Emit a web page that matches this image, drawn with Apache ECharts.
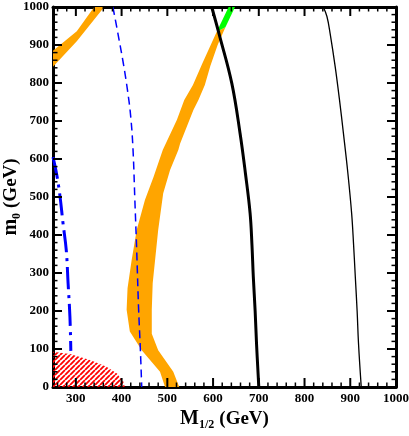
<!DOCTYPE html>
<html>
<head>
<meta charset="utf-8">
<script src="https://cdn.jsdelivr.net/npm/echarts@6/dist/echarts.min.js"></script>
<style>
  html, body { margin: 0; padding: 0; background: #fff; }
  #chart { width: 409px; height: 436px; }
</style>
</head>
<body>
<div id="chart"></div>
<script>
// tick labels and tick positions
const xTickLabels = [300, 400, 500, 600, 700, 800, 900, 1000];
const xMajorTicks = [300, 400, 500, 600, 700, 800, 900];
const yMajorTicks = [100, 200, 300, 400, 500, 600, 700, 800, 900];
const xMinorTicks = [];
for (let v = 260; v < 1000; v += 20) {
    if (v % 100 !== 0) xMinorTicks.push(v);
}
const yMinorTicks = [];
for (let v = 20; v < 1000; v += 20) {
    if (v % 100 !== 0) yMinorTicks.push(v);
}

// cosmological band (orange), turning green past the thick black curve
const bandOrange = [
    [495, 0], [484, 40], [444, 97], [418, 146], [411, 203], [413, 260], [422, 334],
    [433, 413], [451, 492], [470, 553], [490, 624], [521, 703], [537, 755], [556, 795],
    [576, 850], [608, 935], [627, 947], [610, 900], [594, 845], [582, 795], [568, 755],
    [557, 729], [528, 641], [524, 624], [506, 571], [491, 510], [480, 413], [468, 273],
    [466, 203], [466, 140], [480, 97], [513, 40], [526, 0]
];
const bandGreen = [[608, 935], [634, 1000], [648, 1000], [627, 947]];
const bandUpperLeft = [
    [250, 843], [302, 910], [362, 1000], [340, 1000], [302, 936], [250, 885]
];

// excluded region (red hatch)
const redRegion = [
    [250, 0], [250, 93], [287, 87], [331, 71], [367, 53], [389, 36], [404, 14], [407, 0]
];

// contours
const blueThick = [
    [250, 605], [258, 560], [265, 505], [272, 430], [279, 360], [283, 273], [287, 185], [289, 95]
];
const blueThin = [
    [381, 1000], [392, 930], [404, 850], [413, 780], [420, 711], [425, 624], [429, 492],
    [433, 360], [437, 211], [441, 100], [444, 0]
];
const blackThick = [
    [597, 1000], [615, 921], [641, 799], [659, 668], [671, 560], [681, 457], [685, 375],
    [688, 290], [692, 200], [695, 115], [700, 0]
];
const blackThin = [
    [841, 1000], [849, 975], [856, 930], [867, 843], [876, 760], [885, 668], [895, 560],
    [903, 457], [907, 380], [911, 290], [915, 200], [918, 115], [924, 0]
];

const font = 'Liberation Serif';

function hatchPattern() {
    const c = document.createElement('canvas');
    c.width = 5;
    c.height = 5;
    const g = c.getContext('2d');
    g.strokeStyle = '#ff0000';
    g.lineWidth = 1.8;
    g.beginPath();
    for (let k = -5; k <= 5; k += 5) {
        g.moveTo(k, 5);
        g.lineTo(k + 5, 0);
    }
    g.stroke();
    return c;
}

function polygonSeries(points, fill, z) {
    return {
        type: 'custom',
        clip: true,
        z: z,
        silent: true,
        data: [points[0]],
        renderItem: function (params, api) {
            return {
                type: 'polygon',
                shape: { points: points.map(p => api.coord(p)) },
                style: { fill: fill, stroke: null }
            };
        }
    };
}

function lineSeries(points, color, width, type) {
    return {
        type: 'line',
        data: points,
        showSymbol: false,
        smooth: 0.4,
        z: 5,
        silent: true,
        lineStyle: { color: color, width: width, type: type }
    };
}

// inward ticks on all four sides, placed through the axes' own scales
const frameTicks = {
    type: 'custom',
    clip: false,
    z: 20,
    silent: true,
    data: [[250, 0]],
    renderItem: function (params, api) {
        const children = [];
        function tick(p, dx, dy, w) {
            children.push({
                type: 'line',
                shape: { x1: p[0], y1: p[1], x2: p[0] + dx, y2: p[1] + dy },
                style: { stroke: '#000', lineWidth: w }
            });
        }
        xMajorTicks.forEach(v => {
            tick(api.coord([v, 0]), 0, -9, 2);
            tick(api.coord([v, 1000]), 0, 9, 2);
        });
        xMinorTicks.forEach(v => {
            tick(api.coord([v, 0]), 0, -4.5, 1.5);
            tick(api.coord([v, 1000]), 0, 4.5, 1.5);
        });
        yMajorTicks.forEach(v => {
            tick(api.coord([250, v]), 9, 0, 2);
            tick(api.coord([1000, v]), -9, 0, 2);
        });
        yMinorTicks.forEach(v => {
            tick(api.coord([250, v]), 4.5, 0, 1.5);
            tick(api.coord([1000, v]), -4.5, 0, 1.5);
        });
        return { type: 'group', children: children };
    }
};

const frameLine = { show: true, onZero: false, lineStyle: { color: '#000', width: 3 } };
const labelStyle = {
    fontFamily: font, fontWeight: 'bold', fontSize: 13, color: '#000',
    formatter: v => String(v)
};
const nameRich = {
    a: { fontFamily: font, fontWeight: 'bold', fontSize: 20, color: '#000', lineHeight: 24 },
    s: { fontFamily: font, fontWeight: 'bold', fontSize: 12, color: '#000', lineHeight: 24, padding: [12, 0, 0, 0] },
    g: { fontFamily: font, fontWeight: 'bold', fontSize: 19, color: '#000', lineHeight: 24 }
};

const chart = echarts.init(document.getElementById('chart'));
chart.setOption({
    animation: false,
    backgroundColor: '#fff',
    grid: { left: 53, right: 13, top: 7, bottom: 49, outerBoundsMode: 'none' },
    xAxis: [
        {
            type: 'value', position: 'bottom', min: 250, max: 1000, interval: 50,
            axisLine: frameLine,
            axisTick: { show: false },
            axisLabel: Object.assign({ customValues: xTickLabels, margin: 5 }, labelStyle),
            splitLine: { show: false },
            name: '{a|M}{s|1/2}{a| }{g|(GeV)}',
            nameLocation: 'middle',
            nameGap: 20,
            nameMoveOverlap: false,
            nameTextStyle: { rich: nameRich }
        },
        {
            type: 'value', position: 'top', min: 250, max: 1000, interval: 50,
            axisLine: frameLine,
            axisTick: { show: false },
            axisLabel: { show: false },
            splitLine: { show: false }
        }
    ],
    yAxis: [
        {
            type: 'value', position: 'left', min: 0, max: 1000, interval: 100,
            axisLine: frameLine,
            axisTick: { show: false },
            axisLabel: Object.assign({ margin: 4 }, labelStyle),
            splitLine: { show: false },
            name: '{a|m}{s|0}{a| }{g|(GeV)}',
            nameLocation: 'middle',
            nameGap: 30,
            nameMoveOverlap: false,
            nameTextStyle: { rich: nameRich }
        },
        {
            type: 'value', position: 'right', min: 0, max: 1000, interval: 100,
            axisLine: frameLine,
            axisTick: { show: false },
            axisLabel: { show: false },
            splitLine: { show: false }
        }
    ],
    series: [
        polygonSeries(redRegion, { image: hatchPattern(), repeat: 'repeat' }, 1),
        polygonSeries(bandUpperLeft, '#ffa500', 2),
        polygonSeries(bandOrange, '#ffa500', 2),
        polygonSeries(bandGreen, '#00ff00', 2),
        lineSeries(blueThin, '#0000ff', 1.5, [8, 5]),
        lineSeries(blueThick, '#0000ff', 3, [22, 6, 3, 6]),
        lineSeries(blackThick, '#000', 3, 'solid'),
        lineSeries(blackThin, '#000', 1.3, 'solid'),
        frameTicks
    ]
});
</script>
</body>
</html>
